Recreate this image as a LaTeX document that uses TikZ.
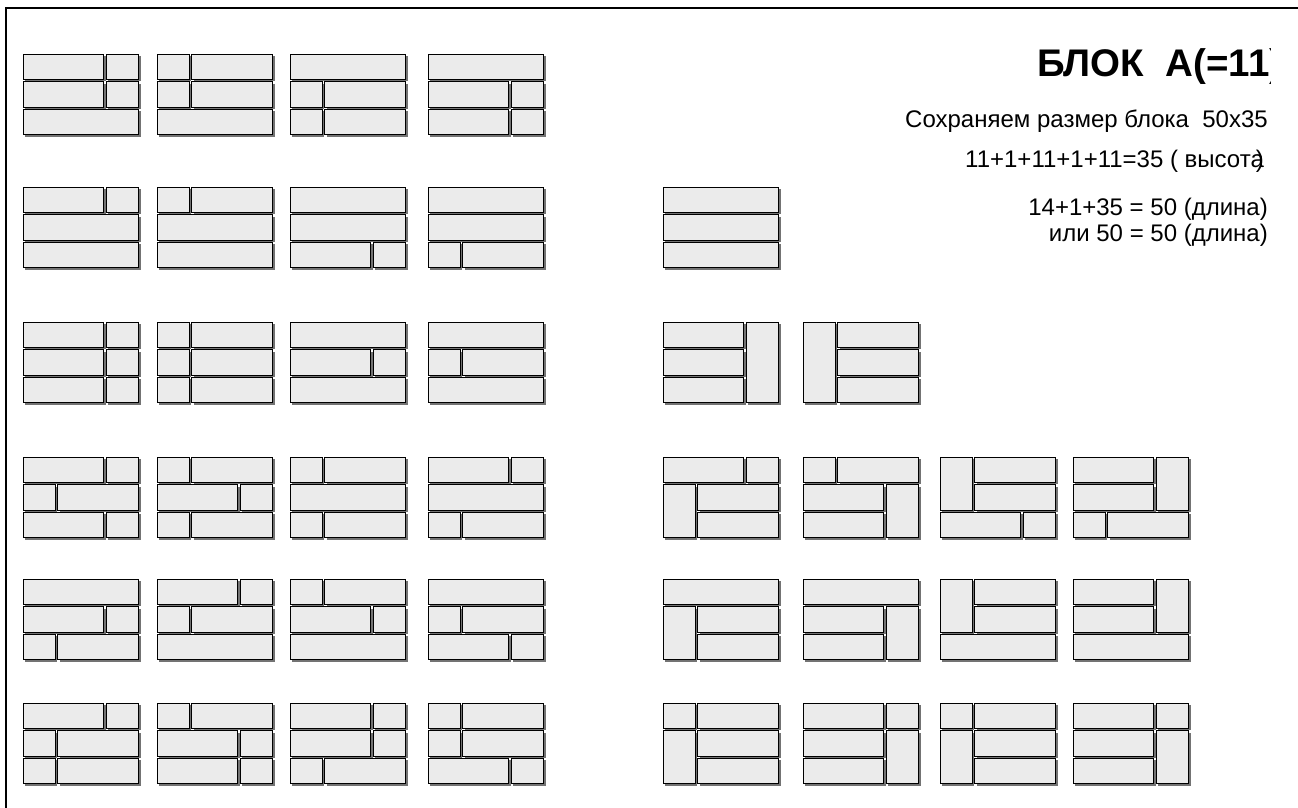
\documentclass[tikz,border=0pt]{standalone}
\usepackage{fontspec}
\setmainfont{Liberation Sans}
\usepackage{tikz}

\newcommand{\bunit}{2.31}
% one block 50x35: list of bricks x/y/w/h in block units
\newcommand{\blok}[3]{%
  \begin{scope}[shift={(#1,#2)}]
  \foreach \bx/\by/\bw/\bh in {#3}
    \fill[brickshade](\bx*\bunit+2,\by*\bunit+2) rectangle +(\bw*\bunit,\bh*\bunit);
  \foreach \bx/\by/\bw/\bh in {#3}
    \draw[brick](\bx*\bunit,\by*\bunit) rectangle +(\bw*\bunit,\bh*\bunit);
  \end{scope}}

\begin{document}
\begin{tikzpicture}[x=1pt,y=-1pt,
  brick/.style={draw=black,fill=black!8,line width=0.9pt},
  brickshade/.style={fill=black!55},
  txt/.style={inner sep=0pt,font=\fontsize{24}{28}\selectfont}]
\useasboundingbox(0,0)rectangle(1298,808);
\draw[line width=2pt](6,808)--(6,8)--(1298,8);

% row 1
\blok{23}{54}{0/0/35/11,36/0/14/11,0/12/35/11,36/12/14/11,0/24/50/11}
\blok{157}{54}{0/0/14/11,15/0/35/11,0/12/14/11,15/12/35/11,0/24/50/11}
\blok{290}{54}{0/0/50/11,0/12/14/11,15/12/35/11,0/24/14/11,15/24/35/11}
\blok{428}{54}{0/0/50/11,0/12/35/11,36/12/14/11,0/24/35/11,36/24/14/11}
% row 2
\blok{23}{187}{0/0/35/11,36/0/14/11,0/12/50/11,0/24/50/11}
\blok{157}{187}{0/0/14/11,15/0/35/11,0/12/50/11,0/24/50/11}
\blok{290}{187}{0/0/50/11,0/12/50/11,0/24/35/11,36/24/14/11}
\blok{428}{187}{0/0/50/11,0/12/50/11,0/24/14/11,15/24/35/11}
\blok{663}{187}{0/0/50/11,0/12/50/11,0/24/50/11}
% row 3
\blok{23}{322}{0/0/35/11,36/0/14/11,0/12/35/11,36/12/14/11,0/24/35/11,36/24/14/11}
\blok{157}{322}{0/0/14/11,15/0/35/11,0/12/14/11,15/12/35/11,0/24/14/11,15/24/35/11}
\blok{290}{322}{0/0/50/11,0/12/35/11,36/12/14/11,0/24/50/11}
\blok{428}{322}{0/0/50/11,0/12/14/11,15/12/35/11,0/24/50/11}
\blok{663}{322}{0/0/35/11,0/12/35/11,0/24/35/11,36/0/14/35}
\blok{803}{322}{0/0/14/35,15/0/35/11,15/12/35/11,15/24/35/11}
% row 4
\blok{23}{457}{0/0/35/11,36/0/14/11,0/12/14/11,15/12/35/11,0/24/35/11,36/24/14/11}
\blok{157}{457}{0/0/14/11,15/0/35/11,0/12/35/11,36/12/14/11,0/24/14/11,15/24/35/11}
\blok{290}{457}{0/0/14/11,15/0/35/11,0/12/50/11,0/24/14/11,15/24/35/11}
\blok{428}{457}{0/0/35/11,36/0/14/11,0/12/50/11,0/24/14/11,15/24/35/11}
\blok{663}{457}{0/0/35/11,36/0/14/11,0/12/14/23,15/12/35/11,15/24/35/11}
\blok{803}{457}{0/0/14/11,15/0/35/11,0/12/35/11,0/24/35/11,36/12/14/23}
\blok{940}{457}{0/0/14/23,15/0/35/11,15/12/35/11,0/24/35/11,36/24/14/11}
\blok{1073}{457}{0/0/35/11,0/12/35/11,36/0/14/23,0/24/14/11,15/24/35/11}
% row 5
\blok{23}{579}{0/0/50/11,0/12/35/11,36/12/14/11,0/24/14/11,15/24/35/11}
\blok{157}{579}{0/0/35/11,36/0/14/11,0/12/14/11,15/12/35/11,0/24/50/11}
\blok{290}{579}{0/0/14/11,15/0/35/11,0/12/35/11,36/12/14/11,0/24/50/11}
\blok{428}{579}{0/0/50/11,0/12/14/11,15/12/35/11,0/24/35/11,36/24/14/11}
\blok{663}{579}{0/0/50/11,0/12/14/23,15/12/35/11,15/24/35/11}
\blok{803}{579}{0/0/50/11,0/12/35/11,0/24/35/11,36/12/14/23}
\blok{940}{579}{0/0/14/23,15/0/35/11,15/12/35/11,0/24/50/11}
\blok{1073}{579}{0/0/35/11,0/12/35/11,36/0/14/23,0/24/50/11}
% row 6
\blok{23}{703}{0/0/35/11,36/0/14/11,0/12/14/11,15/12/35/11,0/24/14/11,15/24/35/11}
\blok{157}{703}{0/0/14/11,15/0/35/11,0/12/35/11,36/12/14/11,0/24/35/11,36/24/14/11}
\blok{290}{703}{0/0/35/11,36/0/14/11,0/12/35/11,36/12/14/11,0/24/14/11,15/24/35/11}
\blok{428}{703}{0/0/14/11,15/0/35/11,0/12/14/11,15/12/35/11,0/24/35/11,36/24/14/11}
\blok{663}{703}{0/0/14/11,15/0/35/11,0/12/14/23,15/12/35/11,15/24/35/11}
\blok{803}{703}{0/0/35/11,36/0/14/11,0/12/35/11,0/24/35/11,36/12/14/23}
\blok{940}{703}{0/0/14/11,15/0/35/11,0/12/14/23,15/12/35/11,15/24/35/11}
\blok{1073}{703}{0/0/35/11,36/0/14/11,0/12/35/11,0/24/35/11,36/12/14/23}

% texts, cut at the right edge of their box
\begin{scope}
\clip(880,0)rectangle(1270,808);
\node[inner sep=0pt,anchor=base west,font=\fontsize{38.5}{42}\selectfont\bfseries](title)at(1037,77){БЛОК\ \ А(=11)};
\node[txt,anchor=base west](size)at(905,127){Сохраняем размер блока\ \ 50x35};
\node[txt,anchor=base west](height)at(965,167){11+1+11+1+11=35 ( высота\llap{)}};
\node[txt,anchor=base east](len1)at(1268,215){14+1+35 = 50 (длина)};
\node[txt,anchor=base east](len2)at(1268,241){или 50 = 50 (длина)};
\end{scope}
\end{tikzpicture}
\end{document}
